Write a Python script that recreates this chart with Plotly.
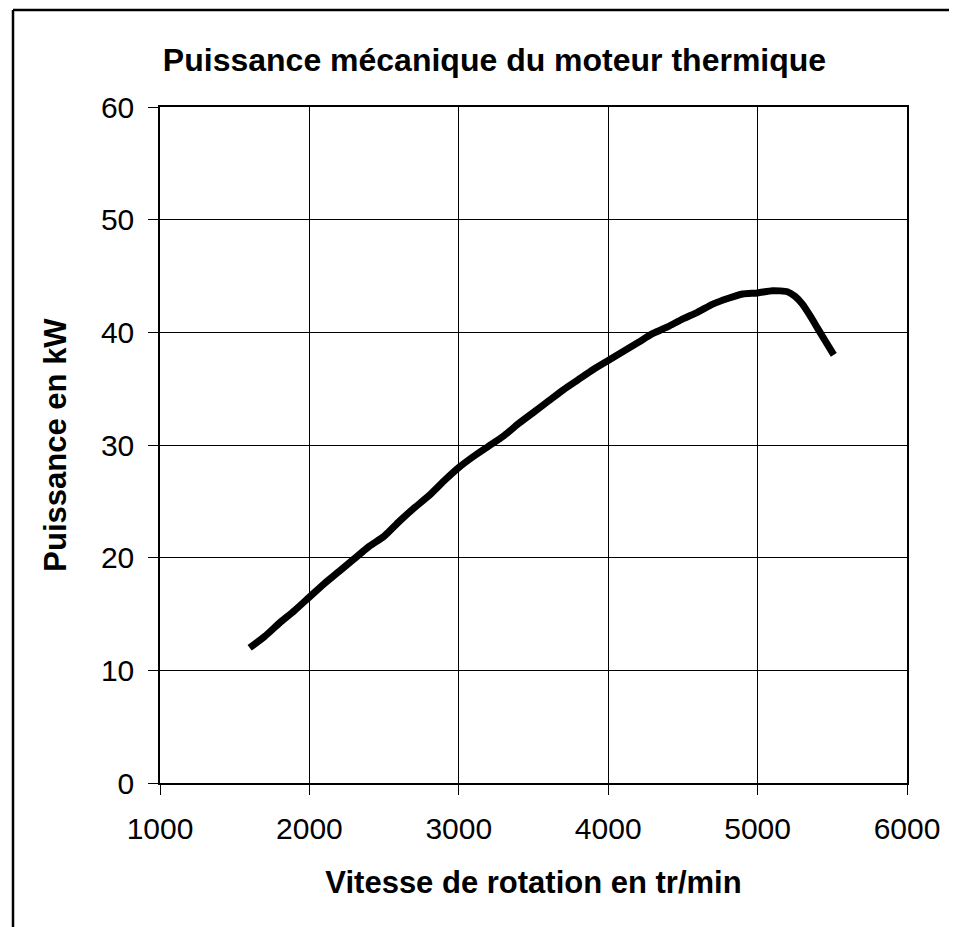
import plotly.graph_objects as go

rpm = [1600, 1700, 1800, 1900, 2000, 2100, 2200, 2300, 2400, 2500, 2600, 2700,
       2800, 2900, 3000, 3100, 3200, 3300, 3400, 3500, 3600, 3700, 3800, 3900,
       4000, 4100, 4200, 4300, 4400, 4500, 4600, 4700, 4800, 4900, 5000, 5100,
       5200, 5250, 5300, 5350, 5400, 5450, 5510]
power_kw = [12.0, 13.0, 14.2, 15.3, 16.5, 17.7, 18.8, 19.9, 21.0, 21.9, 23.2, 24.4,
            25.5, 26.8, 28.0, 29.0, 29.9, 30.8, 31.9, 32.9, 33.9, 34.9, 35.8, 36.7,
            37.5, 38.3, 39.1, 39.9, 40.5, 41.2, 41.8, 42.5, 43.0, 43.4, 43.5, 43.7,
            43.6, 43.2, 42.5, 41.5, 40.4, 39.3, 38.0]

x_ticks = [1000, 2000, 3000, 4000, 5000, 6000]
y_ticks = [0, 10, 20, 30, 40, 50, 60]

title_text = "Puissance mécanique du moteur thermique"
x_title = "Vitesse de rotation en tr/min"
y_title = "Puissance en kW"

# page body has an 8px margin, so figure coords = screen coords - 8
W, H = 949, 919
L, R, T, B = 152, 50, 99, 144
PW, PH = W - L - R, H - T - B

fig = go.Figure()
fig.add_trace(go.Scatter(
    x=rpm, y=power_kw, mode="lines",
    line=dict(color="black", width=7, shape="spline", smoothing=0.6),
    showlegend=False, hoverinfo="skip",
))

font_family = "Liberation Sans, Arial, sans-serif"

axis_common = dict(
    showgrid=True, gridcolor="black", gridwidth=1,
    showline=True, linecolor="black", linewidth=1.5, mirror=True,
    ticks="outside", ticklen=10, tickcolor="black", tickwidth=1,
    tickfont=dict(family=font_family, size=30, color="black"),
    zeroline=False, ticklabelstandoff=8,
)

fx0 = (5 - L) / PW
fy1 = 1 + (T - 2) / PH
fig.update_layout(
    width=W, height=H,
    margin=dict(l=L, r=R, t=T, b=B, autoexpand=False),
    paper_bgcolor="white", plot_bgcolor="white",
    font=dict(family=font_family, color="black"),
    xaxis=dict(range=[1000, 6000], tickvals=x_ticks,
               title=dict(text="<b>" + x_title + "</b>",
                          font=dict(family=font_family, size=31, color="black"),
                          standoff=28),
               **axis_common),
    yaxis=dict(range=[0, 60], tickvals=y_ticks,
               title=dict(text="<b>" + y_title + "</b>",
                          font=dict(family=font_family, size=31, color="black"),
                          standoff=25),
               **axis_common),
    title=dict(text="<b>" + title_text + "</b>",
               font=dict(family=font_family, size=32, color="black"),
               x=(486.5 - L) / PW, xanchor="center", xref="paper",
               y=1 - 52 / H, yanchor="middle", yref="container"),
    shapes=[
        dict(type="line", xref="paper", yref="paper",
             x0=fx0, x1=fx0, y0=fy1, y1=-(B + 40) / PH,
             line=dict(color="black", width=2.5), layer="above"),
        dict(type="line", xref="paper", yref="paper",
             x0=fx0, x1=(W - 1 - L) / PW, y0=fy1, y1=fy1,
             line=dict(color="black", width=2.5), layer="above"),
    ],
)

fig.write_html("out.html")
